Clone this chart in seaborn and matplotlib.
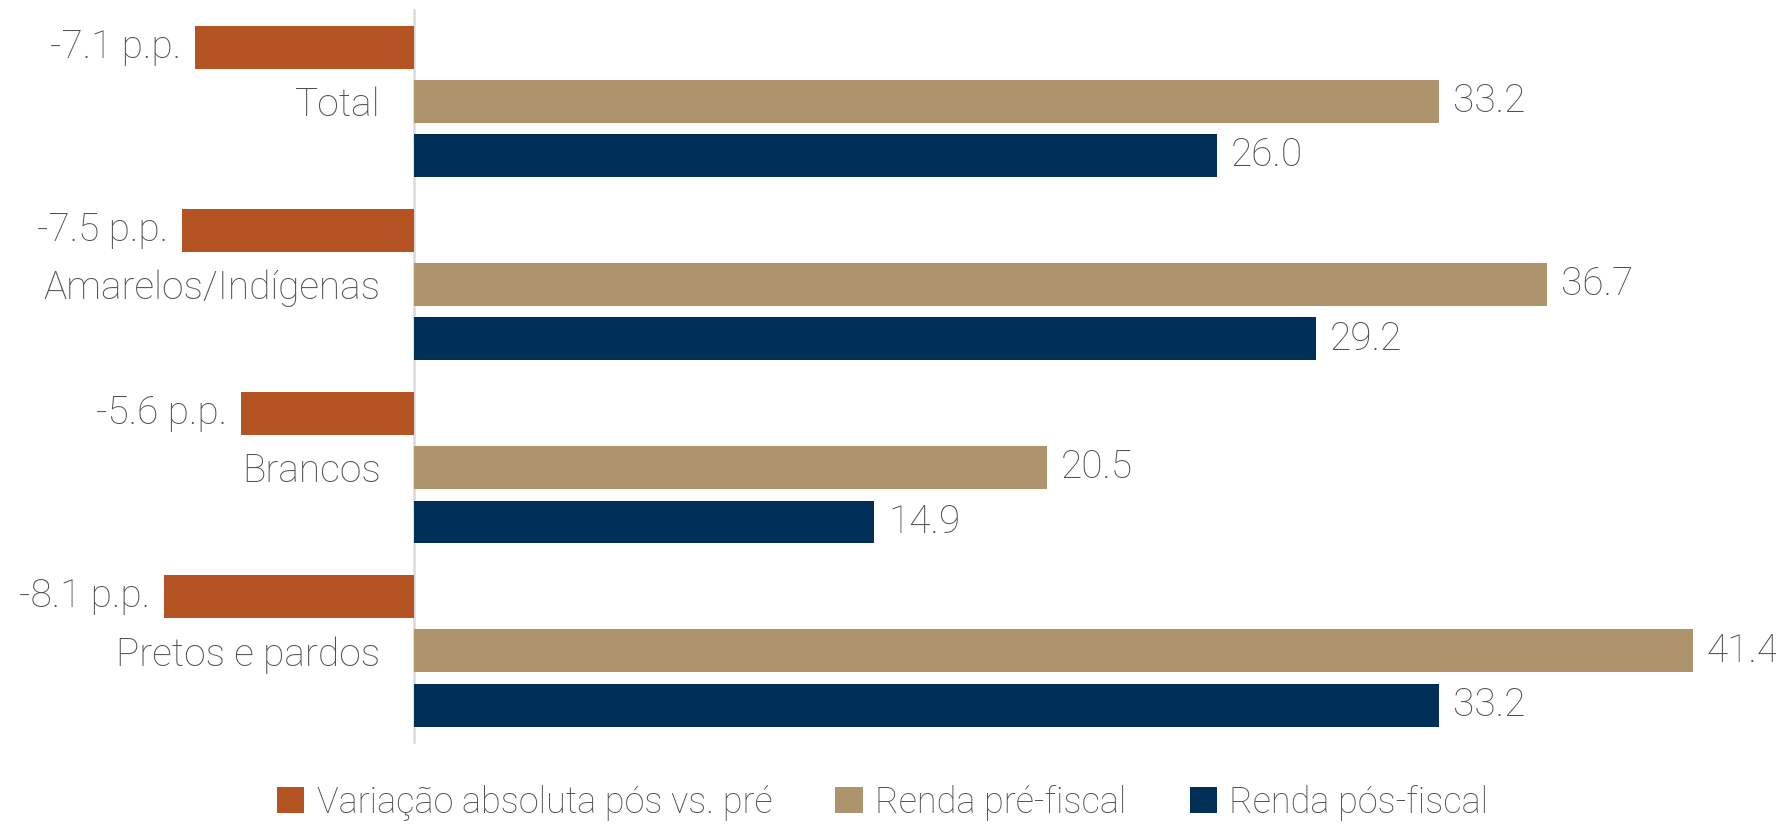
import pandas as pd
import numpy as np
import matplotlib.pyplot as plt
import seaborn as sns
from matplotlib.patches import Patch

# data
groups = ["Total", "Amarelos/Indígenas", "Brancos", "Pretos e pardos"]
series = ["Variação absoluta pós vs. pré", "Renda pré-fiscal", "Renda pós-fiscal"]
variacao = [-7.1, -7.5, -5.6, -8.1]
renda_pre = [33.2, 36.7, 20.5, 41.4]
renda_pos = [26.0, 29.2, 14.9, 33.2]

colors = ["#B35422", "#AE946D", "#003057"]
text_color = "#505050"
fsize = 28

df = pd.DataFrame({
    "grupo": groups * 3,
    "serie": [series[0]] * 4 + [series[1]] * 4 + [series[2]] * 4,
    "valor": variacao + renda_pre + renda_pos,
})

sns.set_style("white")
plt.rcParams["font.family"] = ["Roboto", "DejaVu Sans"]

fig = plt.figure(figsize=(17.76, 8.24), dpi=100)
ax = fig.add_axes([0, 0.099, 1, 0.889])

sns.barplot(data=df, x="valor", y="grupo", hue="serie", orient="y",
            palette=colors, width=0.889, gap=0.21, ax=ax, legend=False,
            saturation=1, linewidth=0)

ax.set_xlim(-13.4, 44.1)
ax.set_ylim(3.5, -0.5)

# left spine sits on zero so the group labels follow it
for s in ["top", "right", "bottom"]:
    ax.spines[s].set_visible(False)
ax.spines["left"].set_position(("data", 0))
ax.spines["left"].set_color("#d9d9d9")
ax.spines["left"].set_linewidth(1.8)
ax.spines["left"].set_zorder(0)

ax.set_xticks([])
ax.set_xlabel("")
ax.set_ylabel("")
ax.tick_params(axis="y", length=0, pad=24, labelsize=fsize, labelcolor=text_color)
for lab in ax.get_yticklabels():
    lab.set_fontweight("light")

labels_sets = [
    [f"{v:.1f} p.p." for v in variacao],
    [f"{v:.1f}" for v in renda_pre],
    [f"{v:.1f}" for v in renda_pos],
]
for cont, labs in zip(ax.containers, labels_sets):
    ax.bar_label(cont, labels=labs, padding=10, fontsize=fsize,
                 color=text_color, fontweight="light")

handles = [Patch(facecolor=c, edgecolor="none") for c in colors]
fig.legend(handles, series, loc="center", bbox_to_anchor=(0.497, 0.026),
           ncol=3, frameon=False, handlelength=0.75,
           handleheight=0.75, handletextpad=0.35, columnspacing=1.75,
           labelcolor=text_color, prop={"weight": "light", "size": 26})

fig.savefig("out.png", dpi=100)
